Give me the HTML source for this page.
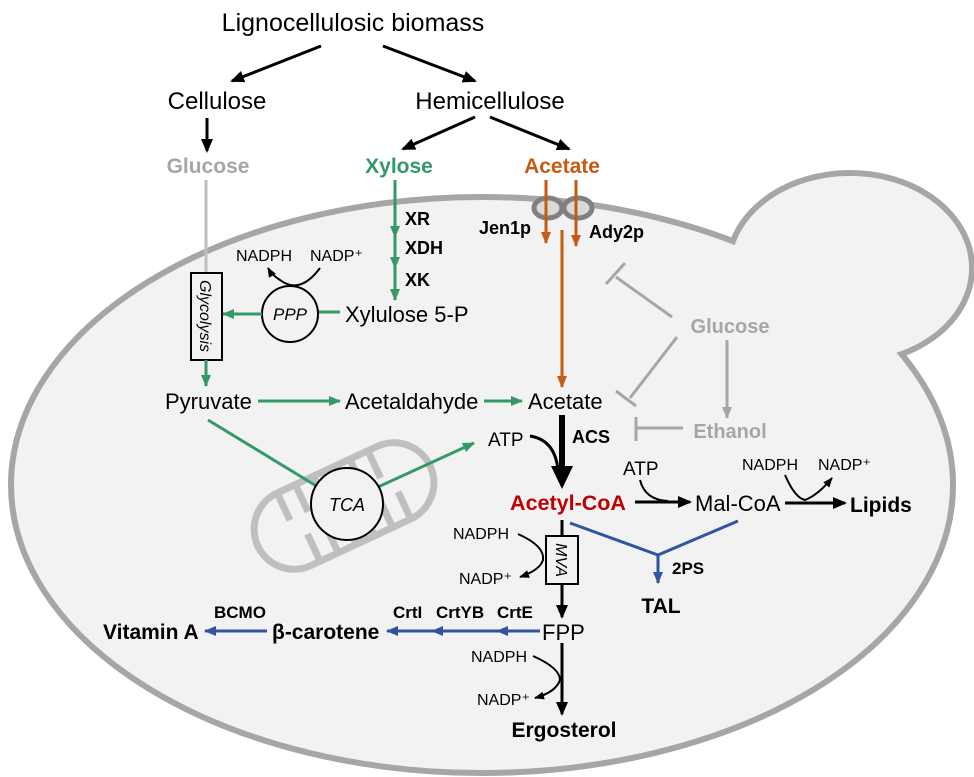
<!DOCTYPE html>
<html><head><meta charset="utf-8"><style>
html,body{margin:0;padding:0;background:#fff;}
svg{display:block;}
text{font-family:"Liberation Sans",Arial,sans-serif;}
.b{font-weight:bold;}
</style></head><body>
<svg width="974" height="777" viewBox="0 0 974 777" xmlns="http://www.w3.org/2000/svg">
<defs>
<marker id="akb" markerWidth="14" markerHeight="12" refX="12" refY="6" orient="auto" markerUnits="userSpaceOnUse"><path d="M0,0 L14,6 L0,12 Z" fill="#000"/></marker>
<marker id="ag" markerWidth="12" markerHeight="10" refX="11" refY="5" orient="auto" markerUnits="userSpaceOnUse"><path d="M0,0 L12,5 L0,10 Z" fill="#339966"/></marker>
<marker id="ao" markerWidth="12" markerHeight="10" refX="11" refY="5" orient="auto" markerUnits="userSpaceOnUse"><path d="M0,0 L12,5 L0,10 Z" fill="#c55a11"/></marker>
<marker id="abl" markerWidth="12" markerHeight="10" refX="11" refY="5" orient="auto" markerUnits="userSpaceOnUse"><path d="M0,0 L12,5 L0,10 Z" fill="#2f55a0"/></marker>
<marker id="agr" markerWidth="12" markerHeight="10" refX="11" refY="5" orient="auto" markerUnits="userSpaceOnUse"><path d="M0,0 L12,5 L0,10 Z" fill="#a6a6a6"/></marker>
<marker id="as" markerWidth="10" markerHeight="8" refX="9" refY="4" orient="auto" markerUnits="userSpaceOnUse"><path d="M0,0 L10,4 L0,8 Z" fill="#000"/></marker>
</defs>

<!-- cell -->
<ellipse cx="850" cy="268" rx="122" ry="95" fill="#f2f2f2" stroke="#a6a6a6" stroke-width="6"/>
<ellipse cx="482" cy="485" rx="471" ry="288" fill="#f2f2f2" stroke="#a6a6a6" stroke-width="6"/>
<ellipse cx="850" cy="268" rx="119" ry="92" fill="#f2f2f2"/>

<!-- top -->
<text x="353" y="31" font-size="25" text-anchor="middle">Lignocellulosic biomass</text>
<line x1="321" y1="46" x2="232" y2="81" stroke="#000" stroke-width="3" marker-end="url(#akb)"/>
<line x1="383" y1="46" x2="475" y2="81" stroke="#000" stroke-width="3" marker-end="url(#akb)"/>
<text x="217" y="109" font-size="24" text-anchor="middle">Cellulose</text>
<text x="490" y="109" font-size="24" text-anchor="middle">Hemicellulose</text>
<line x1="207" y1="118" x2="207" y2="151" stroke="#000" stroke-width="3" marker-end="url(#akb)"/>
<line x1="475" y1="117" x2="403" y2="149" stroke="#000" stroke-width="3" marker-end="url(#akb)"/>
<line x1="490" y1="117" x2="569" y2="149" stroke="#000" stroke-width="3" marker-end="url(#akb)"/>
<text x="208" y="173" font-size="21" class="b" fill="#a6a6a6" text-anchor="middle">Glucose</text>
<text x="399" y="173" font-size="21" class="b" fill="#339966" text-anchor="middle">Xylose</text>
<text x="562" y="173" font-size="21" class="b" fill="#c55a11" text-anchor="middle">Acetate</text>

<!-- glucose/glycolysis -->
<line x1="206" y1="180" x2="206" y2="273" stroke="#bfbfbf" stroke-width="3"/>
<rect x="191" y="273" width="31" height="87" fill="#f2f2f2" stroke="#000" stroke-width="2"/>
<text transform="translate(200,316) rotate(90)" font-size="16" font-style="italic" text-anchor="middle">Glycolysis</text>
<line x1="206" y1="360" x2="206" y2="386" stroke="#339966" stroke-width="3" marker-end="url(#ag)"/>

<!-- xylose -->
<line x1="395" y1="180" x2="395" y2="237" stroke="#339966" stroke-width="3" marker-end="url(#ag)"/>
<line x1="395" y1="237" x2="395" y2="268" stroke="#339966" stroke-width="3" marker-end="url(#ag)"/>
<line x1="395" y1="268" x2="395" y2="300" stroke="#339966" stroke-width="3" marker-end="url(#ag)"/>
<text x="405" y="225" font-size="18" class="b">XR</text>
<text x="405" y="254" font-size="18" class="b">XDH</text>
<text x="405" y="286" font-size="18" class="b">XK</text>
<text x="345" y="322" font-size="22">Xylulose 5-P</text>
<line x1="340" y1="312" x2="318" y2="312" stroke="#339966" stroke-width="3"/>
<circle cx="290" cy="314" r="28" fill="#f2f2f2" stroke="#000" stroke-width="2"/>
<text x="290" y="320" font-size="17" font-style="italic" text-anchor="middle">PPP</text>
<line x1="262" y1="314" x2="223" y2="314" stroke="#339966" stroke-width="3" marker-end="url(#ag)"/>
<text x="236" y="261" font-size="16">NADPH</text>
<text x="310" y="261" font-size="16">NADP⁺</text>
<path d="M320,268 Q300,295 280,280 Q272,275 268,268" fill="none" stroke="#000" stroke-width="2" marker-end="url(#as)"/>

<!-- transporters -->
<ellipse cx="548" cy="208" rx="14" ry="10" fill="#d9d9d9" stroke="#808080" stroke-width="5"/>
<ellipse cx="578" cy="208" rx="14" ry="10" fill="#d9d9d9" stroke="#808080" stroke-width="5"/>
<line x1="546" y1="180" x2="546" y2="243" stroke="#c55a11" stroke-width="3" marker-end="url(#ao)"/>
<line x1="576" y1="180" x2="576" y2="246" stroke="#c55a11" stroke-width="3" marker-end="url(#ao)"/>
<line x1="562" y1="230" x2="562" y2="387" stroke="#c55a11" stroke-width="3" marker-end="url(#ao)"/>
<text x="531" y="234" font-size="18" class="b" text-anchor="end">Jen1p</text>
<text x="589" y="238" font-size="18" class="b">Ady2p</text>

<!-- gray regulation -->
<text x="730" y="333" font-size="20" class="b" fill="#a6a6a6" text-anchor="middle">Glucose</text>
<line x1="672" y1="317" x2="616" y2="277" stroke="#a6a6a6" stroke-width="3"/>
<line x1="606" y1="284" x2="625" y2="263" stroke="#a6a6a6" stroke-width="3"/>
<line x1="677" y1="337" x2="630" y2="398" stroke="#a6a6a6" stroke-width="3"/>
<line x1="616" y1="391" x2="636" y2="406" stroke="#a6a6a6" stroke-width="3"/>
<line x1="727" y1="340" x2="727" y2="418" stroke="#a6a6a6" stroke-width="3" marker-end="url(#agr)"/>
<text x="730" y="438" font-size="20" class="b" fill="#a6a6a6" text-anchor="middle">Ethanol</text>
<line x1="683" y1="428" x2="636" y2="428" stroke="#a6a6a6" stroke-width="3"/>
<line x1="636" y1="417" x2="636" y2="441" stroke="#a6a6a6" stroke-width="3"/>

<!-- middle row -->
<text x="165" y="409" font-size="22">Pyruvate</text>
<line x1="258" y1="401" x2="340" y2="401" stroke="#339966" stroke-width="3" marker-end="url(#ag)"/>
<text x="345" y="409" font-size="22">Acetaldahyde</text>
<line x1="484" y1="401" x2="522" y2="401" stroke="#339966" stroke-width="3" marker-end="url(#ag)"/>
<text x="528" y="409" font-size="22">Acetate</text>

<!-- mitochondrion -->
<g transform="translate(344,506) rotate(-25)" stroke="#bfbfbf" stroke-width="7" fill="none">
<rect x="-95" y="-40" width="190" height="80" rx="40"/>
<line x1="-55" y1="-40" x2="-55" y2="-10"/><line x1="-35" y1="-40" x2="-35" y2="-10"/><line x1="-15" y1="-40" x2="-15" y2="-10"/><line x1="5" y1="-40" x2="5" y2="-10"/><line x1="25" y1="-40" x2="25" y2="-10"/><line x1="45" y1="-40" x2="45" y2="-10"/>
<line x1="-45" y1="40" x2="-45" y2="10"/><line x1="-25" y1="40" x2="-25" y2="10"/><line x1="-5" y1="40" x2="-5" y2="10"/><line x1="15" y1="40" x2="15" y2="10"/><line x1="35" y1="40" x2="35" y2="10"/><line x1="55" y1="40" x2="55" y2="10"/>
</g>
<line x1="208" y1="420" x2="318" y2="487" stroke="#339966" stroke-width="3"/>
<line x1="378" y1="487" x2="474" y2="443" stroke="#339966" stroke-width="3" marker-end="url(#ag)"/>
<circle cx="347" cy="504" r="36" fill="#f2f2f2" stroke="#000" stroke-width="2"/>
<text x="347" y="511" font-size="18" font-style="italic" text-anchor="middle">TCA</text>

<!-- ACS -->
<text x="488" y="446" font-size="19">ATP</text>
<line x1="562" y1="415" x2="562" y2="468" stroke="#000" stroke-width="6"/>
<path d="M551,466 L573,466 L562,489 Z" fill="#000"/>
<path d="M530,436 Q555,440 558,470" fill="none" stroke="#000" stroke-width="3"/>
<text x="572" y="443" font-size="18" class="b">ACS</text>

<text x="568" y="510" font-size="21.5" class="b" fill="#c00000" text-anchor="middle">Acetyl-CoA</text>
<line x1="635" y1="502" x2="690" y2="502" stroke="#000" stroke-width="3" marker-end="url(#akb)"/>
<text x="623" y="475" font-size="19">ATP</text>
<path d="M640,480 Q645,500 668,501" fill="none" stroke="#000" stroke-width="2"/>
<text x="695" y="511" font-size="22">Mal-CoA</text>
<line x1="785" y1="503" x2="845" y2="503" stroke="#000" stroke-width="3" marker-end="url(#akb)"/>
<text x="850" y="512" font-size="21" class="b">Lipids</text>
<text x="742" y="470" font-size="16">NADPH</text>
<text x="818" y="470" font-size="16">NADP⁺</text>
<path d="M785,475 Q795,498 805,500 Q818,495 832,478" fill="none" stroke="#000" stroke-width="2" marker-end="url(#as)"/>

<!-- TAL -->
<polyline points="570,523 658,555 738,521" fill="none" stroke="#2f55a0" stroke-width="3"/>
<line x1="658" y1="555" x2="658" y2="583" stroke="#2f55a0" stroke-width="3" marker-end="url(#abl)"/>
<text x="672" y="574" font-size="17" class="b">2PS</text>
<text x="661" y="613" font-size="21" class="b" text-anchor="middle">TAL</text>

<!-- MVA -->
<line x1="562" y1="520" x2="562" y2="536" stroke="#000" stroke-width="3"/>
<rect x="546" y="536" width="32" height="48" fill="#f2f2f2" stroke="#000" stroke-width="2"/>
<text transform="translate(556,560) rotate(90)" font-size="16" font-style="italic" text-anchor="middle">MVA</text>
<line x1="562" y1="584" x2="562" y2="617" stroke="#000" stroke-width="3" marker-end="url(#akb)"/>
<text x="453" y="539" font-size="16">NADPH</text>
<text x="459" y="584" font-size="16">NADP⁺</text>
<path d="M518,534 Q545,546 543,560 Q540,570 520,577" fill="none" stroke="#000" stroke-width="2" marker-end="url(#as)"/>

<text x="542" y="640" font-size="22">FPP</text>
<line x1="540" y1="631" x2="497" y2="631" stroke="#2f55a0" stroke-width="3" marker-end="url(#abl)"/>
<line x1="497" y1="631" x2="432" y2="631" stroke="#2f55a0" stroke-width="3" marker-end="url(#abl)"/>
<line x1="432" y1="631" x2="387" y2="631" stroke="#2f55a0" stroke-width="3" marker-end="url(#abl)"/>
<text x="393" y="618" font-size="17" class="b">CrtI</text>
<text x="436" y="618" font-size="17" class="b">CrtYB</text>
<text x="497" y="618" font-size="17" class="b">CrtE</text>
<text x="272" y="639" font-size="21" class="b">β-carotene</text>
<line x1="267" y1="631" x2="205" y2="631" stroke="#2f55a0" stroke-width="3" marker-end="url(#abl)"/>
<text x="214" y="618" font-size="17" class="b">BCMO</text>
<text x="103" y="639" font-size="21" class="b">Vitamin A</text>

<line x1="562" y1="643" x2="562" y2="714" stroke="#000" stroke-width="3" marker-end="url(#akb)"/>
<text x="471" y="662" font-size="16">NADPH</text>
<text x="477" y="705" font-size="16">NADP⁺</text>
<path d="M533,656 Q560,668 560,680 Q556,692 535,698" fill="none" stroke="#000" stroke-width="2" marker-end="url(#as)"/>
<text x="564" y="737" font-size="21" class="b" text-anchor="middle">Ergosterol</text>
</svg>
</body></html>
